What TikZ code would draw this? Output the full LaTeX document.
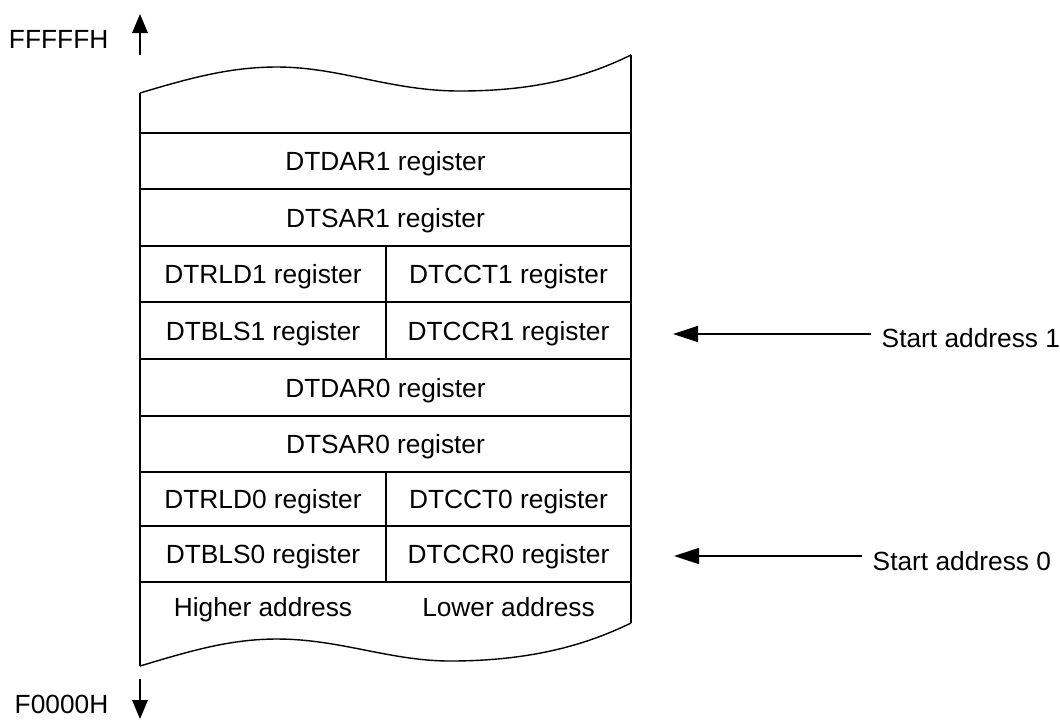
\documentclass[tikz,border=0pt]{standalone}
\usepackage{fontspec}
\setmainfont{Liberation Sans}
\usetikzlibrary{arrows.meta}
\begin{document}
\begin{tikzpicture}[x=0.5pt,y=-0.5pt,line width=0.7pt,
  lbl/.style={font=\fontsize{13.15}{15}\selectfont,inner sep=0pt,anchor=base},
  sidelbl/.style={font=\fontsize{13.15}{15}\selectfont,inner sep=5pt,anchor=base west},
  addrlbl/.style={font=\fontsize{13.15}{15}\selectfont,inner sep=0pt,anchor=base east},
  vtip/.style={-{Triangle[length=9.5pt,width=7.8pt]}},
  htip/.style={-{Triangle[length=12.5pt,width=8pt]}}]
\useasboundingbox (0,0) rectangle (1060,720);
% wavy top and bottom
\draw (140,93) .. controls (190,78) and (230,67) .. (277,67)
  .. controls (340,67) and (390,91) .. (460,91)
  .. controls (540,91) and (590,75) .. (631,55);
\draw (140,666) .. controls (190,651) and (230,639) .. (277,639)
  .. controls (340,639) and (390,661) .. (450,661)
  .. controls (535,661) and (590,643) .. (631,623);
% sides
\draw (140,93) -- (140,666);
\draw (631,55) -- (631,623);
% row lines
\foreach \yy in {133,189,246,302,359,416,472,526,582}
  \draw (140,\yy) -- (631,\yy);
\draw (386,246) -- (386,359);
\draw (386,472) -- (386,582);
% cell texts
\node[lbl] (dar1) at (385.5,170.5) {DTDAR1 register};
\node[lbl] (sar1) at (385.5,227) {DTSAR1 register};
\node[lbl] (rld1) at (263,283.5) {DTRLD1 register};
\node[lbl] (cct1) at (508.5,283.5) {DTCCT1 register};
\node[lbl] (bls1) at (263,340) {DTBLS1 register};
\node[lbl] (ccr1) at (508.5,340) {DTCCR1 register};
\node[lbl] (dar0) at (385.5,397) {DTDAR0 register};
\node[lbl] (sar0) at (385.5,453.5) {DTSAR0 register};
\node[lbl] (rld0) at (263,508.5) {DTRLD0 register};
\node[lbl] (cct0) at (508.5,508.5) {DTCCT0 register};
\node[lbl] (bls0) at (263,563.5) {DTBLS0 register};
\node[lbl] (ccr0) at (508.5,563.5) {DTCCR0 register};
\node[lbl] (hiaddr) at (263,616) {Higher address};
\node[lbl] (loaddr) at (508.5,616) {Lower address};
% address ends
\node[addrlbl] (fff) at (109,48) {FFFFFH};
\node[addrlbl] (f00) at (109,713) {F0000H};
\coordinate (upbase) at (140,55);
\coordinate (uptip) at (140,14);
\coordinate (dnbase) at (140,679);
\coordinate (dntip) at (140,719);
\draw[vtip] (upbase) -- (uptip);
\draw[vtip] (dnbase) -- (dntip);
% start addresses
\node[sidelbl] (sa1) at (871,347) {Start address 1};
\node[sidelbl] (sa0) at (862,570) {Start address 0};
\coordinate (t1) at (673,334);
\coordinate (t0) at (674,556);
\draw[htip] (sa1.west |- t1) -- (t1);
\draw[htip] (sa0.west |- t0) -- (t0);
\end{tikzpicture}
\end{document}
